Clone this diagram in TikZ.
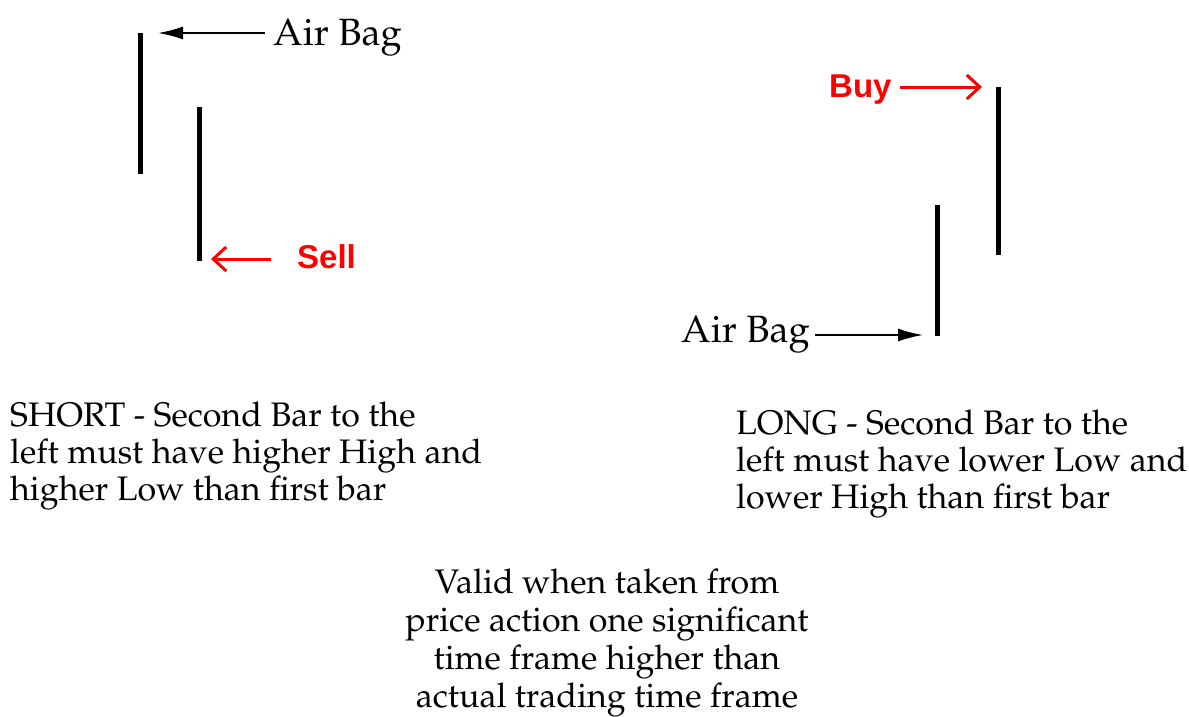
\documentclass[tikz,border=0pt]{standalone}
\usepackage[T1]{fontenc}
\usepackage{fontspec}
\usetikzlibrary{arrows.meta}
\newfontfamily\redsans{Liberation Sans}
\newcommand\palfont{\fontencoding{T1}\fontfamily{ppl}\selectfont}
\definecolor{sigred}{RGB}{255,0,0}
\tikzset{
  bar/.style={line width=5pt},
  blackarrow/.style={line width=1.8pt,-{Latex[length=25pt,width=13pt]}},
  redarrow/.style={line width=3pt,sigred,-{Straight Barb[length=13pt,width=24pt,line width=3pt]}},
  label/.style={inner sep=0pt,font=\palfont\fontsize{38}{38}\selectfont},
  signal/.style={inner sep=0pt,text=sigred,font=\redsans\bfseries\fontsize{33}{33}\selectfont},
  body/.style={inner sep=0pt,align=left,font=\palfont\fontsize{34}{37}\selectfont},
  bodyc/.style={inner sep=0pt,align=center,font=\palfont\fontsize{34}{38}\selectfont}
}
\begin{document}
\begin{tikzpicture}[x=1pt,y=-1pt]
\useasboundingbox (0,0) rectangle (1189,716);
\fill[white] (0,0) rectangle (1189,716);
% short side bars
\coordinate (s1top) at (140,33); \coordinate (s1bot) at (140,174);
\coordinate (s2top) at (199,107); \coordinate (s2bot) at (199,261);
\draw[bar] (s1top) -- (s1bot);
\draw[bar] (s2top) -- (s2bot);
\node[label,anchor=base west] (airL) at (273,45) {Air Bag};
\coordinate (airLtail) at (265,33); \coordinate (airLtip) at (158,33);
\draw[blackarrow] (airLtail) -- (airLtip);
\node[signal,anchor=base west] (sell) at (297,268) {Sell};
\coordinate (sellTail) at (271,259); \coordinate (sellTip) at (211,259);
\draw[redarrow] (sellTail) -- (sellTip);
% long side bars
\coordinate (l1top) at (998,87); \coordinate (l1bot) at (998,255);
\coordinate (l2top) at (937,205); \coordinate (l2bot) at (937,336);
\draw[bar] (l1top) -- (l1bot);
\draw[bar] (l2top) -- (l2bot);
\node[signal,anchor=base west] (buy) at (829,97) {Buy};
\coordinate (buyTail) at (900,87); \coordinate (buyTip) at (982,87);
\draw[redarrow] (buyTail) -- (buyTip);
\node[label,anchor=base west] (airR) at (681,342) {Air Bag};
\coordinate (airRtail) at (815,335); \coordinate (airRtip) at (923,335);
\draw[blackarrow] (airRtail) -- (airRtip);
% texts
\node[body,anchor=base west] (short) at (10,500) {SHORT - Second Bar to the\\left must have higher High and\\higher Low than first bar};
\node[body,anchor=base west] (long) at (736,508) {LONG - Second Bar to the\\left must have lower Low and\\lower High than first bar};
\node[bodyc,anchor=base] (valid) at (607,707) {Valid when taken from\\price action one significant\\time frame higher than\\actual trading time frame};
\end{tikzpicture}
\end{document}
